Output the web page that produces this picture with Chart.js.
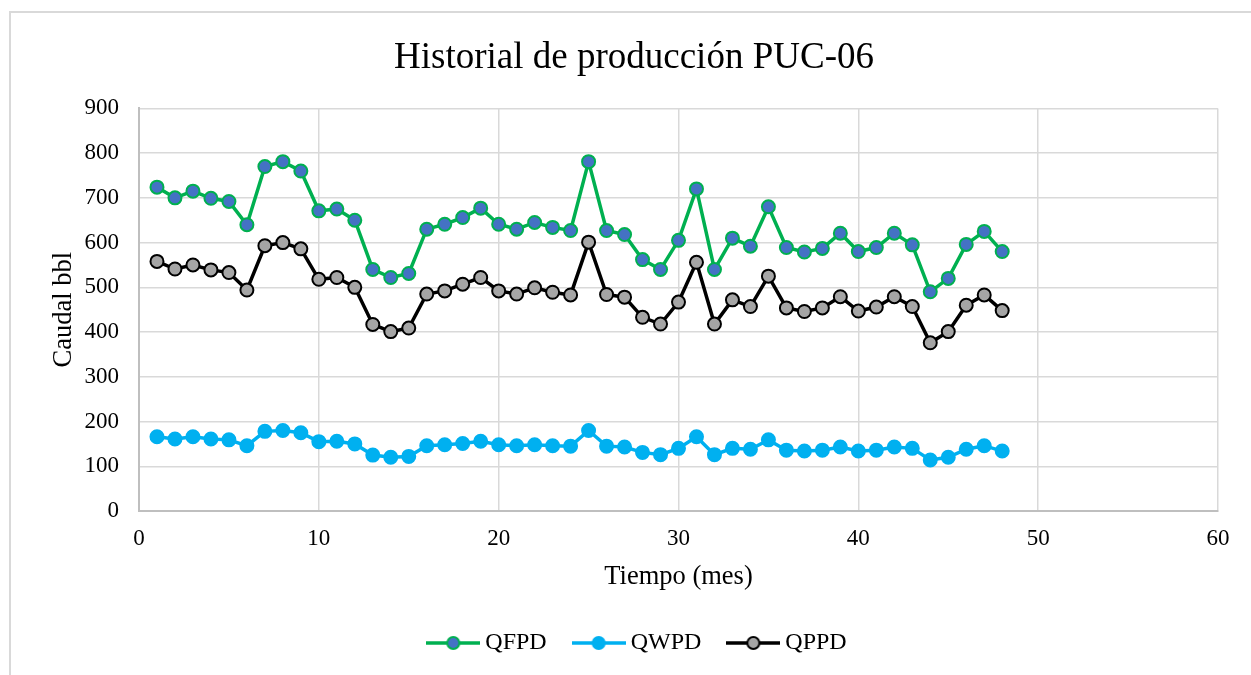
<!DOCTYPE html>
<html>
<head>
<meta charset="utf-8">
<script src="https://cdn.jsdelivr.net/npm/chart.js@4.4.0/dist/chart.umd.min.js"></script>
<style>
  html, body { margin: 0; padding: 0; background: #fff; }
  #frame { position: absolute; left: 9px; top: 11px; width: 1300px; height: 700px;
           border-top: 2px solid #d9d9d9; border-left: 2px solid #d9d9d9; }
  #wrap { position: absolute; left: 0; top: 0; width: 1251px; height: 675px; }
</style>
</head>
<body>
<div id="frame"></div>
<div id="wrap"><canvas id="myChart" width="1251" height="675"></canvas></div>
<script>
// mes
const months = [1, 2, 3, 4, 5, 6, 7, 8, 9, 10, 11, 12, 13, 14, 15, 16, 17, 18, 19, 20, 21, 22, 23, 24,
	25, 26, 27, 28, 29, 30, 31, 32, 33, 34, 35, 36, 37, 38, 39, 40, 41, 42, 43, 44, 45, 46, 47, 48];

const qfpd = [724, 700, 715, 699, 692, 640, 770, 781, 760, 671, 675, 650, 540, 522, 531, 630,
	641, 656, 677, 641, 630, 645, 634, 627, 781, 627, 618, 562, 540, 605, 720, 540,
	610, 592, 680, 589, 579, 587, 621, 580, 589, 621, 595, 490, 520, 596, 625, 580];

const qwpd = [166, 161, 166, 161, 159, 146, 178, 180, 175, 155, 156, 150, 125, 120, 122, 146,
	148, 151, 156, 148, 146, 148, 146, 145, 180, 145, 143, 131, 126, 140, 166, 126,
	140, 138, 159, 136, 134, 136, 143, 134, 136, 143, 140, 114, 120, 138, 146, 134];

const qppd = [558, 541, 550, 539, 533, 494, 593, 600, 586, 518, 522, 500, 417, 401, 409, 485,
	492, 507, 522, 492, 485, 499, 489, 483, 601, 484, 478, 433, 418, 467, 556, 418,
	472, 457, 525, 454, 446, 454, 479, 447, 456, 479, 457, 376, 401, 460, 483, 448];

const seriesNames = ['QFPD', 'QWPD', 'QPPD'];
const xTicks = [0, 10, 20, 30, 40, 50, 60];
const yTicks = [0, 100, 200, 300, 400, 500, 600, 700, 800, 900];

const FONT = "'Liberation Serif', 'Times New Roman', serif";

function toPoints(vals){
	return vals.map(function(v, i){ return {x: months[i], y: v}; });
}

// legend swatch: line with a marker in the middle, like Excel
function swatch(lineColor, fill, border){
	const c = document.createElement('canvas');
	c.width = 54; c.height = 18;
	const g = c.getContext('2d');
	g.strokeStyle = lineColor;
	g.lineWidth = 3.5;
	g.beginPath(); g.moveTo(0, 9); g.lineTo(54, 9); g.stroke();
	g.beginPath(); g.arc(27, 9, 6, 0, Math.PI * 2);
	g.fillStyle = fill; g.fill();
	g.lineWidth = 2; g.strokeStyle = border; g.stroke();
	return c;
}

const styles = [
	{line: '#00B050', fill: '#4472C4', border: '#00B050'},
	{line: '#00B0F0', fill: '#00B0F0', border: '#00B0F0'},
	{line: '#000000', fill: '#A5A5A5', border: '#000000'}
];
const allData = [qfpd, qwpd, qppd];

const datasets = allData.map(function(vals, i){
	const s = styles[i];
	return {
		label: seriesNames[i],
		data: toPoints(vals),
		borderColor: s.line,
		borderWidth: 3.5,
		pointRadius: 6.5,
		pointBorderWidth: 2,
		pointBackgroundColor: s.fill,
		pointBorderColor: s.border,
		pointStyle: 'circle',
		legendStyle: swatch(s.line, s.fill, s.border),
		tension: 0,
		order: 3 - i
	};
});

// Excel centres title and legend a bit to the right of the canvas middle
const shiftBlocks = {
	id: 'shiftBlocks',
	afterLayout(chart){
		chart.legend.left += 26;
		chart.legend.right += 26;
		chart.titleBlock.left += 20;
		chart.titleBlock.right += 20;
	}
};

const ctx = document.getElementById('myChart').getContext('2d');
const myChart = new Chart(ctx, {
	type: 'line',
	data: { datasets: datasets },
	plugins: [shiftBlocks],
	options: {
		responsive: false,
		animation: false,
		layout: { padding: { left: 10, right: 33, top: 0, bottom: 10 } },
		plugins: {
			title: {
				display: true,
				text: 'Historial de producción PUC-06',
				color: '#000',
				font: { family: FONT, size: 37, weight: 'normal' },
				padding: { top: 36, bottom: 28 }
			},
			legend: {
				position: 'bottom',
				labels: {
					color: '#000',
					font: { family: FONT, size: 24 },
					usePointStyle: true,
					pointStyleWidth: 40,
					padding: 32,
					generateLabels: function(chart){
						return chart.data.datasets.map(function(d, i){
							return {
								text: d.label,
								pointStyle: d.legendStyle,
								fillStyle: d.pointBackgroundColor,
								strokeStyle: d.borderColor,
								lineWidth: 0,
								hidden: false,
								datasetIndex: i
							};
						});
					}
				}
			},
			tooltip: { enabled: false }
		},
		scales: {
			x: {
				type: 'linear',
				min: 0,
				max: 60,
				afterBuildTicks: function(scale){ scale.ticks = xTicks.map(function(v){ return {value: v}; }); },
				afterFit: function(scale){ scale.height = 88; },
				grid: { color: '#d9d9d9', lineWidth: 1.5, drawTicks: false },
				border: { color: '#bfbfbf', width: 2 },
				ticks: { color: '#000', font: { family: FONT, size: 23 }, padding: 14, maxRotation: 0 },
				title: { display: true, text: 'Tiempo (mes)', color: '#000',
					font: { family: FONT, size: 26.5 }, padding: 6 }
			},
			y: {
				min: 0,
				max: 900,
				afterBuildTicks: function(scale){ scale.ticks = yTicks.map(function(v){ return {value: v}; }); },
				afterFit: function(scale){ scale.width = 129; },
				grid: { color: '#d9d9d9', lineWidth: 1.5, drawTicks: false },
				border: { color: '#bfbfbf', width: 2 },
				ticks: { color: '#000', font: { family: FONT, size: 23 }, padding: 20 },
				title: { display: true, text: 'Caudal bbl', color: '#000',
					font: { family: FONT, size: 26.5 }, padding: 38 }
			}
		}
	}
});
</script>
</body>
</html>
